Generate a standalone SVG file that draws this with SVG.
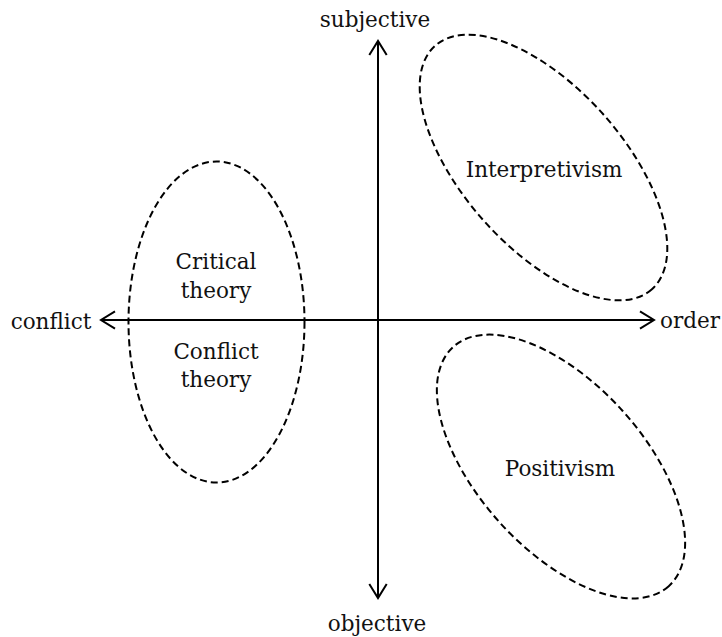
<svg xmlns="http://www.w3.org/2000/svg" width="722" height="637" viewBox="0 0 722 637">
<defs>
<style>
.axis{stroke:#000;stroke-width:2;fill:none}
.ell{stroke:#000;stroke-width:2;fill:none;stroke-dasharray:7 4}
text{font-family:"DejaVu Serif","Liberation Serif",serif;font-size:21.5px;fill:#111;text-anchor:middle}
</style>
<marker id="arr" markerUnits="userSpaceOnUse" markerWidth="20" markerHeight="20" viewBox="-16 -10 18 20" refX="0" refY="0" orient="auto">
<path d="M-14,-8.7 L0,0 L-14,8.7" fill="none" stroke="#000" stroke-width="2"/>
</marker>
</defs>
<g id="connectors">
<line class="axis" x1="378" y1="320" x2="378" y2="41" marker-end="url(#arr)"/>
<line class="axis" x1="378" y1="320" x2="378" y2="598" marker-end="url(#arr)"/>
<line class="axis" x1="378" y1="320" x2="101" y2="320" marker-end="url(#arr)"/>
<line class="axis" x1="378" y1="320" x2="654" y2="320" marker-end="url(#arr)"/>
</g>
<g id="axis-labels">
<text x="375" y="27">subjective</text>
<text x="377" y="631">objective</text>
<text x="51" y="329">conflict</text>
<text x="690" y="328">order</text>
</g>
<g id="critical-conflict">
<ellipse class="ell" cx="216.5" cy="322" rx="88" ry="160.5"/>
<text x="216" y="269">Critical</text>
<text x="216" y="298">theory</text>
<text x="216" y="359">Conflict</text>
<text x="216" y="387">theory</text>
</g>
<g id="interpretivism">
<ellipse class="ell" cx="543.5" cy="167.5" rx="163" ry="80" transform="rotate(48.3 543.5 167.5)"/>
<text x="544" y="177">Interpretivism</text>
</g>
<g id="positivism">
<ellipse class="ell" cx="561" cy="466.5" rx="161" ry="83" transform="rotate(48 561 466.5)"/>
<text x="560" y="476">Positivism</text>
</g>
</svg>
